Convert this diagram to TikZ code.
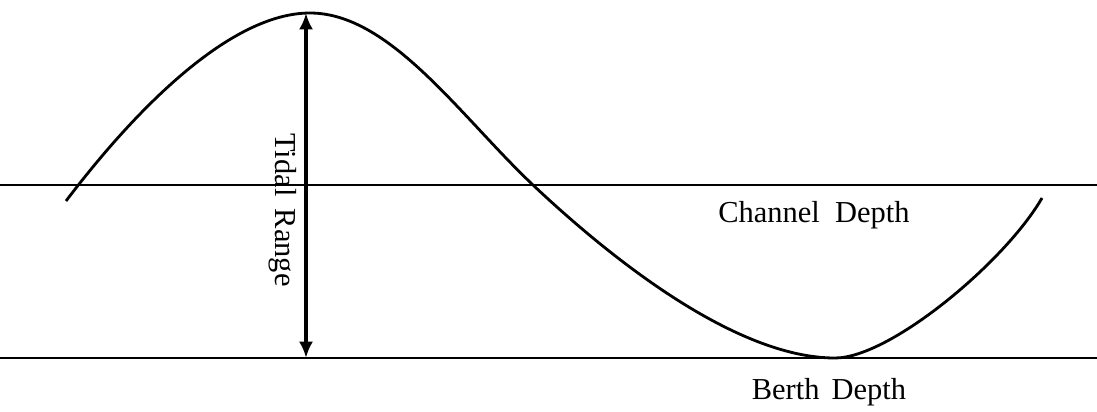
\documentclass[tikz,border=0pt]{standalone}
\usepackage{fontspec}
\setmainfont{Liberation Serif}
\usetikzlibrary{arrows.meta}

\begin{document}
\begin{tikzpicture}[x=0.015cm,y=-0.015cm, lev/.style={line width=0.8pt}, tide/.style={line width=1.2pt}, lab/.style={font=\fontsize{13}{16}\selectfont}]
\useasboundingbox (0,0) rectangle (1097,411);
% levels
\draw[lev] (0,185) -- (1097,185);
\draw[lev] (0,358) -- (1097,358);
\node[lab] (chan) at (814,215) {Channel\hspace{0.5em}Depth};
\node[lab] (berth) at (829,392) {Berth\hspace{0.4em}Depth};
% tide curve
\draw[tide] (66,201) .. controls (135,110) and (230,13) .. (310,13)
  .. controls (390,13) and (460,116) .. (533,185)
  .. controls (620,267) and (740,358) .. (835,358)
  .. controls (890,358) and (1005,262) .. (1042,198);
% range
\coordinate (hw) at (306,13);
\coordinate (lw) at (306,358);
\draw[line width=1.6pt, {Latex[length=7pt,width=6pt]}-{Latex[length=7pt,width=6pt]}] (hw) -- (lw);
\node[lab, rotate=-90] (range) at (283,210) {Tidal\hspace{0.4em}Range};
\end{tikzpicture}
\end{document}
